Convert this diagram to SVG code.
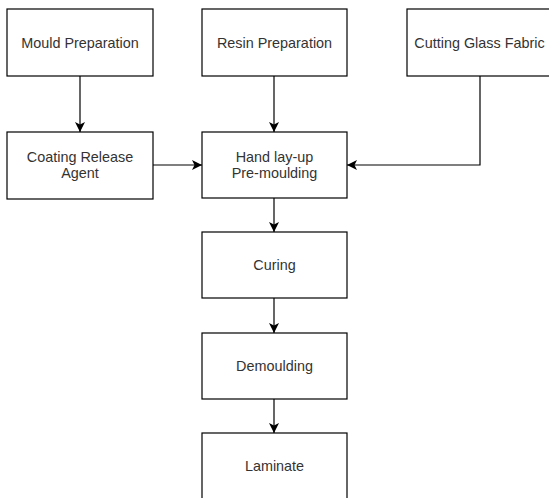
<svg xmlns="http://www.w3.org/2000/svg" width="549" height="498" viewBox="0 0 549 498">
<style>
.box{fill:#fff;stroke:#000;stroke-width:1.2}
.lbl{font-family:"Liberation Sans",Arial,sans-serif;font-size:14.4px;fill:#333;text-anchor:middle}
.edge{fill:none;stroke:#000;stroke-width:1.2}
</style>
<defs>
<marker id="ah" viewBox="0 0 10 10" refX="10" refY="5" markerWidth="10" markerHeight="10" markerUnits="userSpaceOnUse" orient="auto">
<path d="M0,0 L10,5 L0,10 L2.5,5 Z" fill="#000"/>
</marker>
</defs>
<rect width="549" height="498" fill="#fff"/>
<g id="connectors">
<path class="edge" d="M80,76 V132" marker-end="url(#ah)"/>
<path class="edge" d="M274,76 V132" marker-end="url(#ah)"/>
<path class="edge" d="M480,76 V165 H347" marker-end="url(#ah)"/>
<path class="edge" d="M153,165 H202" marker-end="url(#ah)"/>
<path class="edge" d="M274,198 V232" marker-end="url(#ah)"/>
<path class="edge" d="M274,298 V333" marker-end="url(#ah)"/>
<path class="edge" d="M274,399 V433" marker-end="url(#ah)"/>
</g>
<g id="mould">
<rect class="box" x="7" y="9" width="146" height="67"/>
<text class="lbl" x="80" y="47.5">Mould Preparation</text>
</g>
<g id="resin">
<rect class="box" x="202" y="9" width="145" height="67"/>
<text class="lbl" x="274.5" y="47.5">Resin Preparation</text>
</g>
<g id="cutting">
<rect class="box" x="407" y="9" width="145" height="67"/>
<text class="lbl" x="479.5" y="47.5">Cutting Glass Fabric</text>
</g>
<g id="coating">
<rect class="box" x="7" y="132" width="146" height="67"/>
<text class="lbl" x="80" y="162">Coating Release</text>
<text class="lbl" x="80" y="178">Agent</text>
</g>
<g id="handlayup">
<rect class="box" x="202" y="132" width="145" height="66"/>
<text class="lbl" x="274.5" y="162">Hand lay-up</text>
<text class="lbl" x="274.5" y="178">Pre-moulding</text>
</g>
<g id="curing">
<rect class="box" x="202" y="232" width="145" height="66"/>
<text class="lbl" x="274.5" y="270">Curing</text>
</g>
<g id="demoulding">
<rect class="box" x="202" y="333" width="145" height="66"/>
<text class="lbl" x="274.5" y="371">Demoulding</text>
</g>
<g id="laminate">
<rect class="box" x="202" y="433" width="145" height="67"/>
<text class="lbl" x="274.5" y="471">Laminate</text>
</g>
</svg>
